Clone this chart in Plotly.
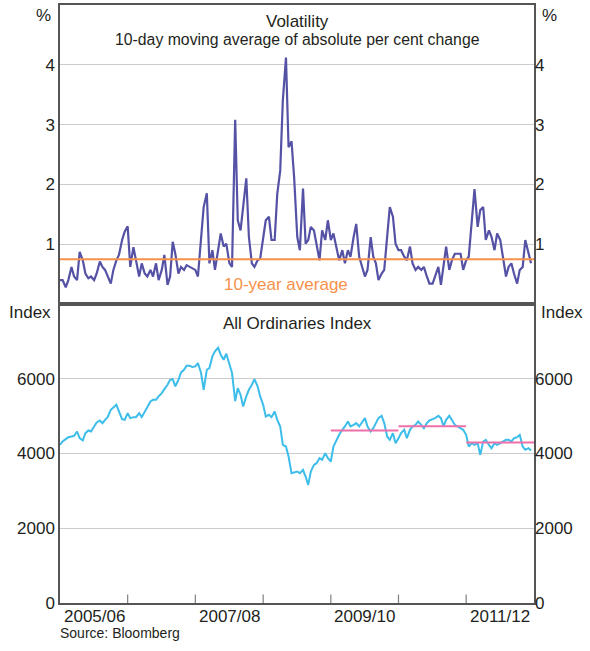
import pandas as pd
import plotly.graph_objects as go

# ---------------- data ----------------
start_date = "2005-07-01"
n_points = 168  # semi-monthly observations, Jul 2005 - Jun 2012

volatility = [
    0.40, 0.40, 0.28, 0.40, 0.62, 0.46, 0.40, 0.87, 0.73, 0.51,
    0.43, 0.46, 0.40, 0.51, 0.71, 0.62, 0.57, 0.46, 0.34, 0.57,
    0.73, 0.82, 1.07, 1.21, 1.30, 0.62, 0.95, 0.73, 0.46, 0.68,
    0.51, 0.46, 0.57, 0.46, 0.68, 0.40, 0.57, 0.82, 0.32, 0.46,
    1.04, 0.84, 0.51, 0.62, 0.57, 0.65, 0.62, 0.59, 0.57, 0.46,
    1.12, 1.62, 1.85, 0.68, 0.90, 0.57, 0.90, 1.18, 0.96, 1.01,
    0.68, 0.62, 3.08, 1.40, 1.23, 1.68, 2.10, 1.12, 0.68, 0.62,
    0.73, 0.76, 1.12, 1.40, 1.46, 1.07, 1.07, 1.84, 2.23, 3.40,
    4.12, 2.62, 2.72, 2.12, 1.12, 0.90, 1.93, 1.01, 1.07, 1.29,
    1.23, 1.01, 0.73, 1.23, 1.07, 1.40, 1.07, 1.18, 0.90, 0.73,
    0.90, 0.68, 0.90, 0.79, 1.12, 1.34, 0.79, 0.62, 0.46, 0.57,
    1.12, 0.79, 0.68, 0.40, 0.51, 0.57, 1.12, 1.62, 1.46, 1.01,
    0.90, 0.90, 0.79, 0.73, 0.96, 0.68, 0.57, 0.62, 0.57, 0.62,
    0.46, 0.34, 0.34, 0.46, 0.62, 0.32, 0.68, 0.96, 0.57, 0.73,
    0.84, 0.84, 0.84, 0.57, 0.73, 0.79, 1.46, 1.92, 1.29, 1.57,
    1.62, 1.07, 1.23, 1.12, 0.90, 1.18, 1.07, 0.79, 0.46, 0.62,
    0.68, 0.51, 0.34, 0.57, 0.62, 1.07, 0.84, 0.68,
]

all_ords = [
    4232, 4321, 4384, 4437, 4455, 4473, 4589, 4410, 4348, 4544,
    4616, 4589, 4723, 4830, 4884, 4812, 4902, 4973, 5170, 5241,
    5303, 5125, 4919, 4902, 5080, 4946, 4973, 4973, 5080, 4973,
    5125, 5259, 5393, 5437, 5437, 5527, 5616, 5723, 5839, 5973,
    5991, 5795, 5973, 6170, 6241, 6348, 6348, 6313, 6330, 6420,
    6152, 5700, 6241, 6286, 6598, 6732, 6830, 6643, 6509, 6670,
    6375, 6152, 5400, 5750, 5571, 5259, 5527, 5705, 5839, 5991,
    5795, 5527, 5303, 4991, 5036, 4973, 5125, 4902, 4723, 4232,
    4187, 3919, 3473, 3491, 3518, 3473, 3562, 3384, 3160, 3518,
    3696, 3741, 3875, 3830, 4009, 3875, 3786, 4187, 4366, 4500,
    4634, 4723, 4857, 4723, 4768, 4812, 4723, 4812, 4946, 4723,
    4589, 4679, 4812, 4946, 5009, 4812, 4455, 4366, 4545, 4277,
    4410, 4545, 4634, 4410, 4634, 4723, 4768, 4857, 4768, 4679,
    4812, 4884, 4919, 4946, 5009, 4946, 4723, 4902, 5009, 4884,
    4768, 4723, 4679, 4634, 4500, 4187, 4277, 4232, 4277, 3964,
    4321, 4366, 4232, 4143, 4277, 4232, 4277, 4321, 4366, 4366,
    4321, 4410, 4437, 4500, 4187, 4098, 4143, 4080,
]

ten_year_avg = 0.75
fy_starts = ["2009-07-01", "2010-07-01", "2011-07-01"]
fy_ends = ["2010-06-30", "2011-06-30", "2012-07-01"]
fy_avgs = [4616, 4732, 4294]

x_range = ["2005-07-01", "2012-07-01"]
fy_boundaries = ["2006-07-01", "2007-07-01", "2008-07-01", "2009-07-01",
                 "2010-07-01", "2011-07-01"]
label_dates = ["2006-01-01", "2008-01-01", "2010-01-01", "2012-01-01"]
label_text = ["2005/06", "2007/08", "2009/10", "2011/12"]
index_range = [0, 8000]
index_ticks = [0, 2000, 4000, 6000]
vol_range = [0, 5]
vol_ticks = [1, 2, 3, 4]

dates = pd.date_range(start_date, periods=n_points, freq="SMS")

# ---------------- styles ----------------
FONT = "Liberation Sans, Arial, sans-serif"
TXT = "#231f20"
FRAME = "#555555"
GRID = "#cccccc"
TICK = "#808080"
VOL_C = "#5552a6"
IDX_C = "#3dbde9"
PINK = "#ef6fa9"
ORANGE = "#f7914a"

fig = go.Figure()

# top panel
fig.add_trace(go.Scatter(x=dates, y=volatility, mode="lines",
                         line=dict(color=VOL_C, width=2.2), xaxis="x", yaxis="y",
                         showlegend=False))
fig.add_trace(go.Scatter(x=x_range, y=[ten_year_avg, ten_year_avg], mode="lines",
                         line=dict(color=ORANGE, width=2), xaxis="x", yaxis="y",
                         showlegend=False))
fig.add_trace(go.Scatter(x=dates, y=volatility, mode="lines", opacity=0,
                         xaxis="x", yaxis="y3", showlegend=False, hoverinfo="skip"))

# bottom panel
fig.add_trace(go.Scatter(x=dates, y=all_ords, mode="lines",
                         line=dict(color=IDX_C, width=2), xaxis="x2", yaxis="y2",
                         showlegend=False))
for s, e, a in zip(fy_starts, fy_ends, fy_avgs):
    fig.add_trace(go.Scatter(x=[s, e], y=[a, a], mode="lines",
                             line=dict(color=PINK, width=2), xaxis="x2", yaxis="y2",
                             showlegend=False))
fig.add_trace(go.Scatter(x=dates, y=all_ords, mode="lines", opacity=0,
                         xaxis="x2", yaxis="y4", showlegend=False, hoverinfo="skip"))
# financial-year boundary tick marks (half of each marker is clipped by the axis)
fig.add_trace(go.Scatter(x=fy_boundaries, y=[index_range[0]] * len(fy_boundaries),
                         mode="markers", xaxis="x2", yaxis="y2", showlegend=False,
                         hoverinfo="skip", cliponaxis=True,
                         marker=dict(symbol="line-ns-open", size=12, color=TICK,
                                     line=dict(color=TICK, width=1.2))))

tickfont = dict(family=FONT, size=17, color=TXT)

xcommon = dict(type="date", range=x_range, showgrid=False,
               zeroline=False, showline=True, linecolor=FRAME, linewidth=1.5,
               mirror=True, automargin=False, ticks="", showticklabels=False)

ycommon = dict(showgrid=True, gridcolor=GRID, gridwidth=1, zeroline=False,
               showline=True, linecolor=FRAME, linewidth=1.5, mirror=True,
               ticks="", tickfont=tickfont, automargin=False)
yright = dict(side="right", showgrid=False, zeroline=False, showline=False,
              ticks="", tickfont=tickfont, automargin=False)

fig.update_layout(
    template="none",
    width=590, height=651,
    margin=dict(l=60, r=56, t=5, b=48),
    paper_bgcolor="white", plot_bgcolor="white",
    font=dict(family=FONT, color=TXT),
    hovermode=False,
    xaxis=dict(**xcommon, domain=[0, 1], anchor="y"),
    xaxis2=dict(**xcommon, domain=[0, 1], anchor="y2"),
    yaxis=dict(**ycommon, domain=[0.5, 1], anchor="x", range=vol_range,
               tickvals=vol_ticks),
    yaxis3=dict(**yright, overlaying="y", anchor="x", range=vol_range,
                tickvals=vol_ticks),
    yaxis2=dict(**ycommon, domain=[0, 0.5], anchor="x2", range=index_range,
                tickvals=index_ticks),
    yaxis4=dict(**yright, overlaying="y2", anchor="x2", range=index_range,
                tickvals=index_ticks),
)

def ann(text, x, y, xanchor="center", size=17, color=TXT, xref="paper"):
    fig.add_annotation(text=text, x=x, y=y, xref=xref, yref="paper",
                       xanchor=xanchor, yanchor="middle", showarrow=False,
                       font=dict(family=FONT, size=size, color=color))

for d, t in zip(label_dates, label_text):
    ann(t, d, -0.0234, xref="x2")

ann("Volatility", 0.5, 0.972)
ann("10-day moving average of absolute per cent change", 0.5, 0.9415, size=15.8)
ann("All Ordinaries Index", 0.5, 0.468)
ann("10-year average", 0.477, 0.532, color=ORANGE)
ann("%", -0.0148, 0.983, xanchor="right")
ann("%", 1.013, 0.983, xanchor="left")
ann("Index", -0.0148, 0.485, xanchor="right")
ann("Index", 1.011, 0.485, xanchor="left")
ann("Source: Bloomberg", -0.004, -0.050, xanchor="left", size=14)

fig.write_html("out.html", config={"displayModeBar": False},
               post_script="document.body.style.margin='0';document.body.style.padding='0';")
